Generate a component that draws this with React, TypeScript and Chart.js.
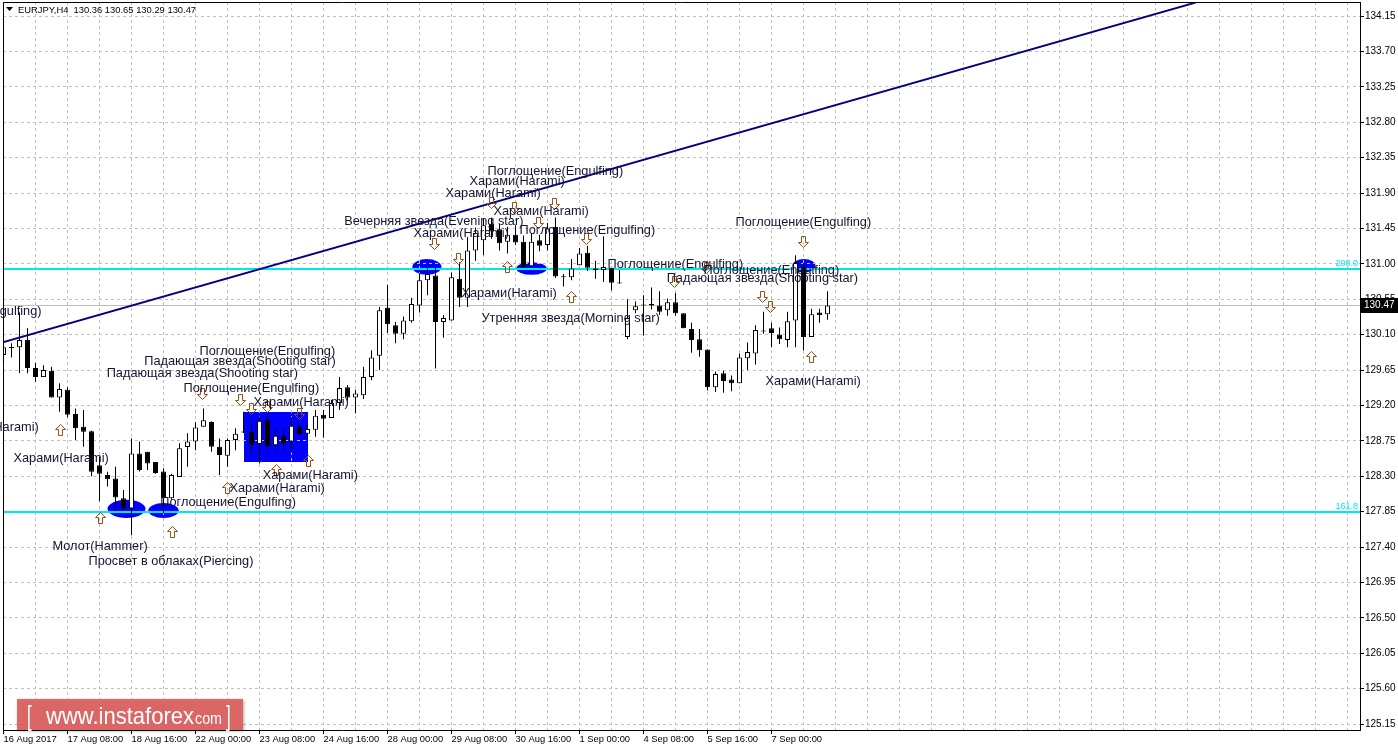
import React, { useEffect, useRef } from 'react';
import { Chart, registerables } from 'chart.js';

Chart.register(...registerables);

const FONT = "'Liberation Sans', Arial, sans-serif";

// ---------- data ----------
const chartTitle = 'EURJPY,H4  130.36 130.65 130.29 130.47';

const opens = [
  129.84, 129.94, 129.94, 130.03, 129.675, 129.56, 129.64, 129.30, 129.40, 129.09,
  128.93, 128.87, 128.44, 128.315, 128.27, 128.02, 127.89, 128.59, 128.61, 128.48,
  128.36, 128.02, 128.29, 128.67, 128.74, 128.93, 128.99, 128.675, 128.56, 128.76,
  128.86, 128.865, 128.71, 129.01, 128.695, 128.815, 128.74, 128.93, 128.84, 128.89,
  129.08, 129.04, 129.23, 129.43, 129.30, 129.33, 129.56, 129.83, 130.44, 130.22,
  130.11, 130.27, 130.47, 130.79, 130.85, 130.26, 130.28, 130.81, 130.57, 131.17,
  131.30, 131.51, 131.44, 131.28, 131.37, 131.28, 130.97, 131.30, 131.24, 131.47,
  130.84, 130.83, 130.98, 131.14, 130.94, 130.92, 130.95, 130.76, 130.07, 130.41,
  130.47, 130.49, 130.47, 130.41, 130.51, 130.37, 130.17, 130.04, 129.91, 129.43,
  129.61, 129.53, 129.48, 129.80, 129.86, 130.15, 130.18, 130.10, 130.03, 130.28,
  130.96, 130.07, 130.38, 130.36,
];
const highs = [
  129.97, 129.99, 130.38, 130.18, 129.74, 129.71, 129.69, 129.48, 129.43, 129.16,
  129.14, 128.88, 128.55, 128.357, 128.42, 128.125, 128.78, 128.74, 128.61, 128.48,
  128.40, 128.33, 128.72, 128.845, 128.99, 129.16, 129.00, 128.78, 128.78, 128.91,
  129.12, 128.98, 129.06, 129.10, 128.91, 128.92, 129.05, 128.96, 128.97, 129.14,
  129.14, 129.27, 129.56, 129.46, 129.40, 129.69, 129.90, 130.45, 130.73, 130.26,
  130.33, 130.57, 130.88, 130.94, 130.95, 130.35, 130.89, 131.02, 131.34, 131.46,
  131.58, 131.59, 131.51, 131.47, 131.49, 131.36, 131.39, 131.37, 131.52, 131.59,
  130.87, 131.06, 131.20, 131.23, 131.04, 131.35, 130.95, 130.92, 130.55, 130.52,
  130.60, 130.70, 130.65, 130.56, 130.63, 130.37, 130.25, 130.17, 129.91, 129.63,
  129.64, 129.58, 129.86, 130.00, 130.22, 130.39, 130.25, 130.19, 130.39, 131.11,
  131.01, 130.43, 130.43, 130.65,
];
const lows = [
  129.74, 129.81, 129.61, 129.61, 129.50, 129.56, 129.30, 129.12, 129.05, 128.76,
  128.675, 128.30, 127.98, 128.17, 127.87, 127.87, 127.55, 128.36, 128.38, 128.33,
  127.83, 128.00, 128.29, 128.42, 128.63, 128.93, 128.61, 128.315, 128.42, 128.63,
  128.85, 128.58, 128.46, 128.63, 128.63, 128.62, 128.60, 128.83, 128.78, 128.80,
  128.79, 129.04, 129.14, 129.26, 129.10, 129.28, 129.52, 129.65, 130.12, 129.99,
  130.04, 130.25, 130.38, 130.60, 129.67, 130.06, 130.28, 130.45, 130.45, 131.04,
  131.11, 131.32, 131.17, 131.13, 131.24, 130.95, 130.97, 131.16, 131.17, 130.82,
  130.71, 130.79, 130.98, 130.91, 130.81, 130.77, 130.66, 130.75, 130.04, 130.37,
  130.09, 130.42, 130.35, 130.34, 130.34, 130.18, 129.87, 129.82, 129.39, 129.37,
  129.36, 129.38, 129.48, 129.65, 129.72, 130.11, 129.94, 129.98, 129.94, 129.94,
  129.90, 130.07, 130.25, 130.29,
];
const closes = [
  129.94, 129.93, 130.03, 129.675, 129.56, 129.65, 129.30, 129.41, 129.08, 128.91,
  128.865, 128.355, 128.33, 128.26, 128.03, 127.88, 128.59, 128.38, 128.46, 128.34,
  128.02, 128.315, 128.655, 128.74, 128.92, 129.01, 128.675, 128.57, 128.76, 128.84,
  128.865, 128.70, 129.005, 128.685, 128.815, 128.72, 128.94, 128.83, 128.90, 129.07,
  129.03, 129.23, 129.42, 129.30, 129.35, 129.56, 129.81, 130.41, 130.23, 130.11,
  130.28, 130.49, 130.79, 130.87, 130.26, 130.31, 130.83, 130.57, 131.17, 131.39,
  131.49, 131.41, 131.26, 131.37, 131.27, 130.96, 131.28, 131.23, 131.45, 130.84,
  130.83, 130.94, 131.13, 130.95, 130.92, 130.96, 130.76, 130.75, 130.31, 130.46,
  130.48, 130.47, 130.39, 130.51, 130.37, 130.18, 130.03, 129.90, 129.43, 129.60,
  129.51, 129.48, 129.81, 129.88, 130.16, 130.14, 130.12, 130.04, 130.27, 131.01,
  130.07, 130.36, 130.35, 130.47,
];

const xTickLabels = [
  '16 Aug 2017', '17 Aug 08:00', '18 Aug 16:00', '22 Aug 00:00', '23 Aug 08:00',
  '24 Aug 16:00', '28 Aug 00:00', '29 Aug 08:00', '30 Aug 16:00', '1 Sep 00:00',
  '4 Sep 08:00', '5 Sep 16:00', '7 Sep 00:00',
];
const yTickValues = [
  125.15, 125.6, 126.05, 126.5, 126.95, 127.4, 127.85, 128.3, 128.75, 129.2, 129.65,
  130.1, 130.55, 131.0, 131.45, 131.9, 132.35, 132.8, 133.25, 133.7, 134.15,
];
const bidPrice = 130.47;

// trend line: [bar, price]
const trendBars = [-0.5, 149];
const trendPrices = [129.99, 134.32];

// fibonacci expansion levels
const fibPrices = [130.93, 127.84];
const fibNames = ['200.0', '161.8'];

// pattern highlight shapes: [bar from, bar to, price low, price high]
const ellipses: [number, number, number, number][] = [
  [13.0, 17.75, 127.77, 128.0],
  [18.1, 21.9, 127.77, 127.96],
  [51.1, 54.75, 130.86, 131.06],
  [64.1, 67.9, 130.86, 131.02],
  [98.6, 101.5, 130.89, 131.06],
];
const boxes: [number, number, number, number][] = [[30, 38, 128.48, 129.12]];

// pattern labels: [text, bar, price]
const patternNotes: [string, number, number][] = [
  ['Поглощение(Engulfing)', -12.2, 130.40],
  ['Харами(Harami)', -7.5, 128.925],
  ['Харами(Harami)', 1.25, 128.52],
  ['Молот(Hammer)', 6.125, 127.41],
  ['Просвет в облаках(Piercing)', 10.625, 127.21],
  ['Поглощение(Engulfing)', 19.6, 127.96],
  ['Поглощение(Engulfing)', 24.5, 129.89],
  ['Падающая звезда(Shooting star)', 17.6, 129.76],
  ['Падающая звезда(Shooting star)', 12.9, 129.60],
  ['Поглощение(Engulfing)', 22.5, 129.42],
  ['Харами(Harami)', 31.25, 129.24],
  ['Харами(Harami)', 32.4, 128.315],
  ['Харами(Harami)', 28.25, 128.15],
  ['Вечерняя звезда(Evening star)', 42.6, 131.54],
  ['Харами(Harami)', 51.25, 131.38],
  ['Поглощение(Engulfing)', 60.5, 132.17],
  ['Харами(Harami)', 58.25, 132.05],
  ['Харами(Harami)', 55.25, 131.90],
  ['Харами(Harami)', 61.25, 131.67],
  ['Поглощение(Engulfing)', 64.5, 131.42],
  ['Харами(Harami)', 57.25, 130.62],
  ['Утренняя звезда(Morning star)', 59.75, 130.30],
  ['Поглощение(Engulfing)', 75.5, 130.985],
  ['Поглощение(Engulfing)', 87.5, 130.92],
  ['Падающая звезда(Shooting star)', 82.9, 130.81],
  ['Поглощение(Engulfing)', 91.5, 131.52],
  ['Харами(Harami)', 95.25, 129.50],
];

// signal arrows: [bar, price]
const upArrows: [number, number][] = [
  [7, 128.887], [12, 127.77], [21, 127.59], [27.9, 128.15], [34, 128.38],
  [38.1, 128.49], [63, 130.96], [70.9, 130.58], [101, 129.815],
];
const downArrows: [number, number][] = [
  [24.75, 129.36], [29.6, 129.28], [30.9, 129.17], [32.9, 129.19], [36.9, 129.10],
  [53.75, 131.26], [56.75, 131.07], [60.9, 131.785], [63.75, 131.72], [66.75, 131.53],
  [68.75, 131.77], [72.75, 131.33], [83.75, 130.78], [87.75, 130.96], [94.75, 130.59],
  [95.75, 130.46], [99.9, 131.29],
];

// ---------- layout constants ----------
const W = 1398;
const H = 750;
const PX_PER_BAR = 8;
const PLOT_LEFT = 3;
const PLOT_TOP = 2;
const Y_AXIS_W = 38;
const X_AXIS_H = 20;
const PLOT_RIGHT = W - Y_AXIS_W;
const X_MIN = -0.0625;
const X_MAX = X_MIN + (PLOT_RIGHT - PLOT_LEFT) / PX_PER_BAR;
const PX_PER_UNIT = 708 / 9;
const Y_MAX = 134.15 + 14 / PX_PER_UNIT;
const Y_MIN = 125.15 - 6 / PX_PER_UNIT;

const BLUE = '#0000ff';
const CYAN = '#00e8f0';
const TEXT = '#141432';
const ARROW = '#9a5010';

function drawArrow(ctx: CanvasRenderingContext2D, cx: number, cy: number, up: boolean) {
  const s = up ? 1 : -1;
  const pts = [[0, -6], [5, -1], [2, -1], [2, 5], [-2, 5], [-2, -1], [-5, -1]];
  const X0 = Math.round(cx) + 0.5;
  const Y0 = Math.round(cy) + 0.5;
  ctx.beginPath();
  pts.forEach(([px, py], k) => {
    const X = X0 + px;
    const Y = Y0 + py * s;
    if (k === 0) ctx.moveTo(X, Y);
    else ctx.lineTo(X, Y);
  });
  ctx.closePath();
  ctx.stroke();
}

const overlayPlugin = {
  id: 'overlay',
  beforeDraw(chart: any) {
    const { ctx, chartArea: a, scales } = chart;
    const x = scales.x;
    const y = scales.y;
    ctx.save();
    ctx.fillStyle = '#ffffff';
    ctx.fillRect(0, 0, chart.width, chart.height);
    ctx.beginPath();
    ctx.rect(a.left, a.top, a.right - a.left, a.bottom - a.top);
    ctx.clip();
    ctx.fillStyle = BLUE;
    boxes.forEach(([b0, b1, p0, p1]) => {
      const x0 = Math.round(x.getPixelForValue(b0));
      const x1 = Math.round(x.getPixelForValue(b1));
      const y0 = Math.round(y.getPixelForValue(p1));
      const y1 = Math.round(y.getPixelForValue(p0));
      ctx.fillRect(x0, y0, x1 - x0, y1 - y0);
    });
    ellipses.forEach(([b0, b1, p0, p1]) => {
      const x0 = x.getPixelForValue(b0);
      const x1 = x.getPixelForValue(b1);
      const y0 = y.getPixelForValue(p1);
      const y1 = y.getPixelForValue(p0);
      ctx.beginPath();
      ctx.ellipse((x0 + x1) / 2, (y0 + y1) / 2, (x1 - x0) / 2, (y1 - y0) / 2, 0, 0, Math.PI * 2);
      ctx.fill();
    });
    ctx.restore();
  },
  beforeDatasetsDraw(chart: any) {
    const { ctx, chartArea: a, scales } = chart;
    const y = scales.y;
    ctx.save();
    ctx.beginPath();
    ctx.rect(a.left, a.top, a.right - a.left, a.bottom - a.top);
    ctx.clip();
    const by = Math.round(y.getPixelForValue(bidPrice)) + 0.5;
    ctx.strokeStyle = '#c0c0c0';
    ctx.lineWidth = 1;
    ctx.beginPath();
    ctx.moveTo(a.left, by);
    ctx.lineTo(a.right, by);
    ctx.stroke();
    ctx.strokeStyle = CYAN;
    ctx.lineWidth = 2;
    fibPrices.forEach((p) => {
      const py = Math.round(y.getPixelForValue(p));
      ctx.beginPath();
      ctx.moveTo(0, py);
      ctx.lineTo(a.right, py);
      ctx.stroke();
    });
    ctx.restore();
  },
  afterDatasetsDraw(chart: any) {
    const { ctx, chartArea: a, scales } = chart;
    const x = scales.x;
    const y = scales.y;
    ctx.save();
    ctx.fillStyle = CYAN;
    ctx.font = `9px ${FONT}`;
    ctx.textAlign = 'right';
    ctx.textBaseline = 'bottom';
    fibPrices.forEach((p, i) => {
      const py = Math.round(y.getPixelForValue(p));
      ctx.fillText(fibNames[i], a.right - 2, py - 1);
    });
    ctx.strokeStyle = ARROW;
    ctx.lineWidth = 1;
    upArrows.forEach(([b, p]) => drawArrow(ctx, x.getPixelForValue(b), y.getPixelForValue(p), true));
    downArrows.forEach(([b, p]) => drawArrow(ctx, x.getPixelForValue(b), y.getPixelForValue(p), false));
    ctx.fillStyle = TEXT;
    ctx.font = `12.75px ${FONT}`;
    ctx.textAlign = 'left';
    ctx.textBaseline = 'middle';
    patternNotes.forEach(([t, b, p]) => {
      ctx.fillText(t, x.getPixelForValue(b), y.getPixelForValue(p));
    });
    ctx.restore();
  },
  afterDraw(chart: any) {
    const { ctx, chartArea: a, scales } = chart;
    const y = scales.y;
    ctx.save();
    ctx.strokeStyle = '#000';
    ctx.lineWidth = 1;
    ctx.beginPath();
    ctx.moveTo(a.left + 0.5, a.bottom);
    ctx.lineTo(a.left + 0.5, a.top + 0.5);
    ctx.lineTo(a.right, a.top + 0.5);
    ctx.stroke();
    // title
    ctx.fillStyle = '#000';
    ctx.beginPath();
    ctx.moveTo(6, 7);
    ctx.lineTo(13, 7);
    ctx.lineTo(9.5, 11);
    ctx.closePath();
    ctx.fill();
    ctx.font = `9.4px ${FONT}`;
    ctx.textAlign = 'left';
    ctx.textBaseline = 'middle';
    ctx.fillText(chartTitle, 18, 10);
    // bid price box
    const by = Math.round(y.getPixelForValue(bidPrice));
    ctx.fillStyle = '#000';
    ctx.fillRect(a.right + 1, by - 7, W - a.right - 1, 15);
    ctx.fillStyle = '#fff';
    ctx.font = `10px ${FONT}`;
    ctx.fillText(bidPrice.toFixed(2), a.right + 4, by + 0.5);
    // watermark
    ctx.shadowColor = 'rgba(0,0,0,0.35)';
    ctx.shadowBlur = 3;
    ctx.shadowOffsetX = 1;
    ctx.shadowOffsetY = 1;
    ctx.fillStyle = 'rgba(222, 96, 96, 0.92)';
    ctx.fillRect(17, 699, 226, 31);
    ctx.shadowColor = 'transparent';
    ctx.fillStyle = '#ffffff';
    ctx.textBaseline = 'alphabetic';
    ctx.font = `28px ${FONT}`;
    ctx.save();
    ctx.translate(27, 725);
    ctx.scale(0.6, 1);
    ctx.fillText('[', 0, 0);
    ctx.restore();
    ctx.save();
    ctx.translate(226, 725);
    ctx.scale(0.6, 1);
    ctx.fillText(']', 0, 0);
    ctx.restore();
    ctx.font = `24px ${FONT}`;
    const main = 'www.instaforex';
    const mw = ctx.measureText(main).width;
    ctx.save();
    ctx.translate(46, 724);
    ctx.scale(148 / mw, 1);
    ctx.fillText(main, 0, 0);
    ctx.restore();
    ctx.font = `16px ${FONT}`;
    const cw = ctx.measureText('com').width;
    ctx.save();
    ctx.translate(195, 724);
    ctx.scale(27 / cw, 1);
    ctx.fillText('com', 0, 0);
    ctx.restore();
    ctx.restore();
  },
};

export default function App() {
  const ref = useRef<HTMLCanvasElement>(null);
  useEffect(() => {
    const bull: any[] = [];
    const bear: any[] = [];
    opens.forEach((o, i) => {
      const c = closes[i];
      let lo = Math.min(o, c);
      let hi = Math.max(o, c);
      if (hi - lo < 0.013) {
        const m = (hi + lo) / 2;
        lo = m - 0.0065;
        hi = m + 0.0065;
      }
      (c >= o ? bull : bear).push({ x: i, y: [lo, hi] });
    });
    const wicks = opens.map((_, i) => ({ x: i, y: [lows[i], highs[i]] }));
    const trend = trendBars.map((b, i) => ({ x: b, y: trendPrices[i] }));

    const chart = new Chart(ref.current as HTMLCanvasElement, {
      type: 'bar',
      data: {
        datasets: [
          {
            type: 'line',
            data: trend,
            borderColor: '#000080',
            borderWidth: 2,
            pointRadius: 0,
            order: 0,
            clip: 0,
          } as any,
          {
            data: bull,
            backgroundColor: '#ffffff',
            borderColor: '#000000',
            borderWidth: 1,
            borderSkipped: false,
            barThickness: 5,
            maxBarThickness: 5,
            grouped: false,
            inflateAmount: 0,
            order: 1,
          } as any,
          {
            data: bear,
            backgroundColor: '#000000',
            borderColor: '#000000',
            borderWidth: 1,
            borderSkipped: false,
            barThickness: 5,
            maxBarThickness: 5,
            grouped: false,
            inflateAmount: 0,
            order: 1,
          } as any,
          {
            data: wicks,
            backgroundColor: '#000000',
            borderWidth: 0,
            barThickness: 1,
            maxBarThickness: 1,
            grouped: false,
            inflateAmount: 0,
            order: 2,
          } as any,
        ],
      },
      options: {
        responsive: false,
        animation: false,
        events: [],
        layout: { padding: { left: PLOT_LEFT, top: PLOT_TOP, right: 0, bottom: 0 } },
        plugins: { legend: { display: false }, tooltip: { enabled: false }, title: { display: false } },
        scales: {
          x: {
            type: 'linear',
            min: X_MIN,
            max: X_MAX,
            offset: false,
            afterBuildTicks: (s: any) => {
              const t: any[] = [];
              for (let v = 0; v <= X_MAX; v += 4) t.push({ value: v });
              s.ticks = t;
            },
            afterFit: (s: any) => {
              s.height = X_AXIS_H;
              s.paddingLeft = 0;
              s.paddingRight = 0;
            },
            ticks: {
              autoSkip: false,
              maxRotation: 0,
              minRotation: 0,
              align: 'start',
              padding: 0,
              color: '#000',
              font: { family: FONT, size: 9.4 },
              callback: (v: any) => {
                const n = Math.round(Number(v));
                if (n % 8 !== 0) return '';
                return xTickLabels[n / 8] || '';
              },
            },
            grid: {
              color: '#c0c0c0',
              lineWidth: 1,
              offset: false,
              drawTicks: true,
              tickLength: 4,
              tickWidth: 1,
              tickBorderDash: [],
              tickColor: (c: any) => {
                const n = Math.round(c.tick ? c.tick.value : -1);
                return n % 8 === 0 && n / 8 < xTickLabels.length ? '#000' : 'rgba(0,0,0,0)';
              },
            },
            border: { display: true, color: '#000', width: 1, dash: [3, 3] },
          } as any,
          y: {
            type: 'linear',
            position: 'right',
            min: Y_MIN,
            max: Y_MAX,
            afterBuildTicks: (s: any) => {
              s.ticks = yTickValues.map((v) => ({ value: v }));
            },
            afterFit: (s: any) => {
              s.width = Y_AXIS_W;
              s.paddingTop = 0;
              s.paddingBottom = 0;
            },
            ticks: {
              padding: 1,
              color: '#000',
              font: { family: FONT, size: 10 },
              callback: (v: any) => Number(v).toFixed(2),
            },
            grid: {
              color: '#c0c0c0',
              lineWidth: 1,
              drawTicks: true,
              tickLength: 4,
              tickWidth: 1,
              tickBorderDash: [],
              tickColor: '#000',
            },
            border: { display: true, color: '#000', width: 1, dash: [3, 3] },
          } as any,
        },
      },
      plugins: [overlayPlugin],
    } as any);
    return () => chart.destroy();
  }, []);

  return (
    <div style={{ position: 'fixed', left: 0, top: 0, width: W, height: H, background: '#fff' }}>
      <canvas ref={ref} width={W} height={H} style={{ display: 'block', width: W, height: H }} />
    </div>
  );
}
